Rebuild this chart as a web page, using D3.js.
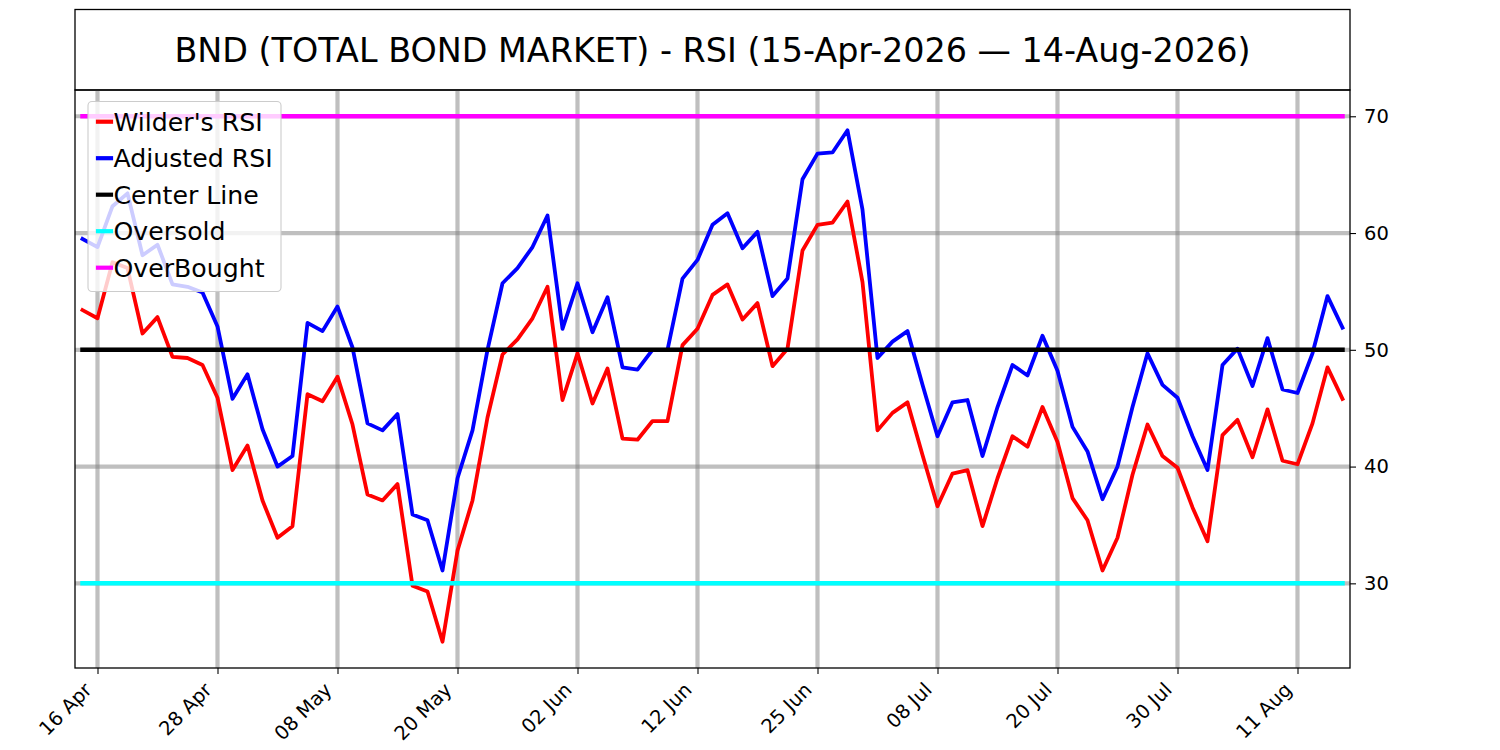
<!DOCTYPE html>
<html><head><meta charset="utf-8">
<script src="https://cdn.jsdelivr.net/npm/d3@7"></script>
<style>body{margin:0;background:#fff} svg text{font-family:"DejaVu Sans",sans-serif;fill:#000}</style>
</head><body><svg id="chart" width="1500" height="750"></svg>
<script>
// ---------- data ----------
const titleText = "BND (TOTAL BOND MARKET) - RSI (15-Apr-2026 \u2014 14-Aug-2026)";
const startDate = "2026-04-15";
const endDate = "2026-08-14";
const holidays = ["2026-05-25", "2026-06-19", "2026-07-03"];
const tickDates = ["2026-04-16","2026-04-28","2026-05-08","2026-05-20","2026-06-02","2026-06-12",
                   "2026-06-25","2026-07-08","2026-07-20","2026-07-30","2026-08-11"];
const wilderRSI = [53.4,52.7,57.5,57.0,51.4,52.8,49.4,49.3,48.7,45.9,
                   39.7,41.8,37.1,33.9,34.9,46.2,45.6,47.7,43.6,37.6,
                   37.1,38.5,29.8,29.3,25.0,32.8,37.1,44.2,49.6,50.9,
                   52.7,55.4,45.7,49.7,45.4,48.4,42.4,42.3,43.9,43.9,
                   50.4,51.8,54.7,55.6,52.6,54.0,48.6,50.1,58.5,60.7,
                   60.9,62.7,55.8,43.1,44.6,45.5,41.0,36.6,39.4,39.7,
                   34.9,39.0,42.6,41.7,45.1,42.1,37.3,35.4,31.1,33.9,
                   39.3,43.6,40.9,39.9,36.5,33.6,42.7,44.0,40.8,44.9,
                   40.5,40.2,43.7,48.5,45.8];
const adjustedRSI = [59.5,58.8,62.3,63.4,58.1,59.0,55.6,55.4,54.9,52.0,
                     45.8,47.9,43.2,40.0,40.9,52.3,51.6,53.7,50.2,43.7,
                     43.1,44.5,35.9,35.4,31.1,39.0,43.1,50.0,55.7,57.0,
                     58.8,61.5,51.8,55.7,51.5,54.5,48.5,48.3,50.0,50.0,
                     56.1,57.7,60.7,61.7,58.7,60.1,54.6,56.1,64.6,66.8,
                     66.9,68.8,62.0,49.3,50.7,51.6,47.0,42.6,45.5,45.7,
                     40.9,45.1,48.7,47.8,51.2,48.2,43.4,41.3,37.2,40.0,
                     45.1,49.7,47.0,45.9,42.6,39.7,48.7,50.1,46.9,51.0,
                     46.6,46.3,49.7,54.6,51.9];
const centerLevel = 50;
const oversoldLevel = 30;
const overboughtLevel = 70;
const yTicks = [30, 40, 50, 60, 70];
const seriesNames = ["Wilder's RSI", "Adjusted RSI", "Center Line", "Oversold", "OverBought"];
const seriesColors = ["#ff0000", "#0000ff", "#000000", "#00ffff", "#ff00ff"];

// ---------- derived ----------
const parse = d3.utcParse("%Y-%m-%d"), fmt = d3.utcFormat("%Y-%m-%d");
const hol = new Set(holidays);
const dates = d3.utcDays(parse(startDate), d3.utcDay.offset(parse(endDate), 1))
  .filter(d => d.getUTCDay() !== 0 && d.getUTCDay() !== 6 && !hol.has(fmt(d)));
const dateKeys = dates.map(fmt);
const tickIdx = tickDates.map(t => dateKeys.indexOf(t));
const series = [
  wilderRSI,
  adjustedRSI,
  dates.map(() => centerLevel),
  dates.map(() => oversoldLevel),
  dates.map(() => overboughtLevel)
];

// ---------- layout ----------
const L = 75, R = 1350, T = 90, B = 668;
const svg = d3.select("#chart");
svg.append("rect").attr("width", 1500).attr("height", 750).attr("fill", "#fff");

const x = d3.scaleLinear().domain([-0.5, dates.length - 0.5]).range([L, R]);
const y = d3.scaleLinear().domain([22.75, 72.25]).range([B, T]);

// title box
svg.append("rect").attr("x", L).attr("y", 9.5).attr("width", R - L).attr("height", T - 9.5)
  .attr("fill", "none").attr("stroke", "#000").attr("stroke-width", 1.3);
svg.append("text").attr("x", (L + R) / 2).attr("y", 61.5).attr("text-anchor", "middle")
  .style("font-size", "33.4px").text(titleText);

// grid
const grid = svg.append("g");
grid.selectAll("line.v").data(tickIdx).join("line")
  .attr("x1", d => x(d)).attr("x2", d => x(d)).attr("y1", T).attr("y2", B)
  .attr("stroke", "#808080").attr("stroke-opacity", 0.5).attr("stroke-width", 4.2);
grid.selectAll("line.h").data(yTicks).join("line")
  .attr("x1", L).attr("x2", R).attr("y1", d => y(d)).attr("y2", d => y(d))
  .attr("stroke", "#808080").attr("stroke-opacity", 0.5).attr("stroke-width", 4.2);

// lines
svg.append("clipPath").attr("id", "clip").append("rect")
  .attr("x", L).attr("y", T).attr("width", R - L).attr("height", B - T);
const line = d3.line().x((d, i) => x(i)).y(d => y(d));
const lw = [3.8, 3.8, 4.5, 4.5, 4.5];
svg.append("g").attr("clip-path", "url(#clip)").selectAll("path").data(series).join("path")
  .attr("d", line).attr("fill", "none")
  .attr("stroke", (d, i) => seriesColors[i]).attr("stroke-width", (d, i) => lw[i])
  .attr("stroke-linecap", "square").attr("stroke-linejoin", "round");

// x axis
const xAxis = svg.append("g").attr("transform", `translate(0,${B})`)
  .call(d3.axisBottom(x).tickValues(tickIdx).tickSize(6)
    .tickFormat(i => d3.utcFormat("%d %b")(dates[i])));
xAxis.select(".domain").remove();
xAxis.selectAll(".tick line").attr("stroke", "#000").attr("stroke-width", 1.1);
xAxis.selectAll(".tick text").attr("x", null).attr("y", null).attr("dy", null)
  .attr("text-anchor", "end").attr("transform", "translate(-5,23) rotate(-45)")
  .style("font-size", "19.5px").attr("fill", "#000");

// y axis (right)
const yAxis = svg.append("g").attr("transform", `translate(${R},0)`)
  .call(d3.axisRight(y).tickValues(yTicks).tickSize(6).tickPadding(8));
yAxis.select(".domain").remove();
yAxis.selectAll(".tick line").attr("stroke", "#000").attr("stroke-width", 1.1);
yAxis.selectAll(".tick text").style("font-size", "19.5px").attr("fill", "#000");

// frame
svg.append("rect").attr("x", L).attr("y", T).attr("width", R - L).attr("height", B - T)
  .attr("fill", "none").attr("stroke", "#000").attr("stroke-width", 1.3);

// legend
const lg = svg.append("g");
lg.append("rect").attr("x", 88).attr("y", 101.5).attr("width", 193).attr("height", 190).attr("rx", 4)
  .attr("fill", "#fff").attr("fill-opacity", 0.8).attr("stroke", "#cccccc").attr("stroke-width", 1.1);
seriesNames.forEach((name, k) => {
  const ry = 121.7 + 36.5 * k;
  lg.append("line").attr("x1", 98).attr("x2", 111).attr("y1", ry).attr("y2", ry)
    .attr("stroke", seriesColors[k]).attr("stroke-width", 4.2).attr("stroke-linecap", "square");
  lg.append("text").attr("x", 113.5).attr("y", ry + 9).style("font-size", "25.2px").text(name);
});
</script></body></html>
